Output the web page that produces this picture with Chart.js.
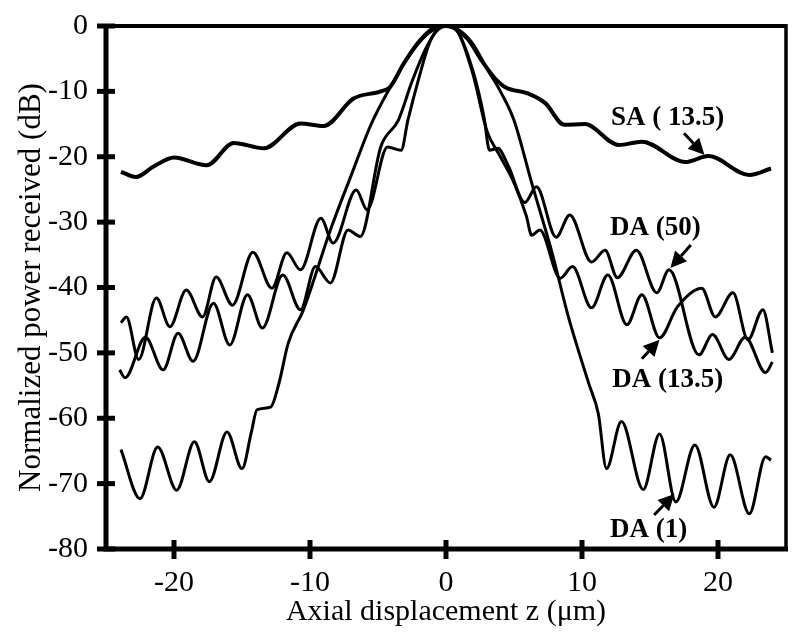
<!DOCTYPE html>
<html>
<head>
<meta charset="utf-8">
<script src="https://cdn.jsdelivr.net/npm/chart.js@4"></script>
<style>
  html, body { margin: 0; padding: 0; background: #fff; }
</style>
</head>
<body>
<canvas id="chart" width="800" height="637"></canvas>
<script>
// axial displacement z (um) and normalized power (dB)
const zSA = [-23.9, -22.8, -21.5, -20.0, -17.6, -15.6, -13.4, -10.7, -9.0, -6.8, -4.8, -4.1, -3.1, -2.0, -0.9, 0,
  0.6, 1.6, 2.6, 3.6, 4.4, 6.0, 7.3, 8.7, 10.2, 12.7, 14.4, 17.6, 19.3, 22.3, 23.9];
const dbSA = [-22.3, -23.1, -21.5, -20.1, -21.3, -17.9, -18.7, -14.9, -15.3, -11.1, -10.0, -9.3, -5.7, -2.4, -0.3, 0,
  -0.3, -2.0, -5.2, -8.0, -9.4, -10.3, -11.8, -15.1, -15.0, -18.2, -17.7, -20.8, -19.9, -22.8, -21.8];

const zDA50 = [-23.9, -23.5, -22.6, -21.3, -20.3, -19.1, -17.9, -16.9, -15.7, -14.2, -12.8, -11.7, -10.7, -9.2, -8.3,
  -6.6, -5.8, -4.3, -3.3, -2.8, -2.0, -1.2, -0.5, 0, 0.8, 2.0, 2.8, 3.2, 3.8, 4.6, 5.8, 6.65, 8.1, 9.1, 10.7, 11.7,
  12.6, 14.0, 15.5, 16.4, 18.6, 19.6, 20.8, 22.0, 23.5, 24.0];
const dbDA50 = [-45.4, -44.5, -51.0, -41.6, -46.0, -40.4, -44.5, -38.4, -42.7, -34.6, -40.1, -34.7, -37.3, -29.4, -33.2,
  -25.1, -28.1, -18.5, -19.0, -14.4, -8.0, -2.5, -0.3, 0, -0.7, -7.0, -14.0, -19.0, -18.7, -21.5, -27.0, -24.6, -32.3,
  -28.9, -36.1, -34.3, -38.5, -34.3, -40.8, -37.3, -50.3, -47.2, -51.0, -47.6, -53.0, -51.4];

const zDA135 = [-24.0, -23.6, -22.1, -20.8, -19.7, -18.6, -17.1, -15.9, -14.6, -13.5, -12.0, -10.7, -9.6, -8.5, -7.2,
  -6.3, -4.8, -3.5, -2.5, -1.5, -0.7, 0, 0.8, 2.0, 3.0, 4.0, 5.0, 5.9, 6.3, 6.9, 8.4, 9.3, 10.7, 11.9, 13.3, 14.4,
  15.7, 17.0, 18.8, 19.8, 21.1, 22.2, 23.3, 24.0];
const dbDA135 = [-52.6, -53.8, -47.6, -52.6, -47.0, -51.3, -42.4, -48.8, -41.1, -46.2, -38.1, -43.4, -36.8, -39.3, -31.2,
  -32.2, -18.5, -14.4, -8.5, -3.5, -0.8, 0, -0.7, -7.5, -16.0, -20.0, -24.0, -29.0, -32.0, -31.2, -38.6, -36.8, -43.1,
  -38.1, -45.7, -41.1, -47.7, -43.0, -40.1, -44.5, -40.8, -48.0, -43.4, -50.0];

const zDA1 = [-23.9, -22.5, -21.2, -19.8, -18.5, -17.4, -16.1, -15.0, -14.3, -13.9, -12.9, -12.3, -11.6, -10.5, -8.5,
  -7.0, -5.5, -4.0, -3.0, -2.0, -1.0, 0, 1.0, 2.0, 3.0, 4.0, 5.0, 6.3, 7.8, 9.0, 10.5, 11.2, 11.8, 12.9, 14.5, 15.7,
  16.9, 18.3, 19.7, 20.9, 22.3, 23.5, 23.9];
const dbDA1 = [-64.8, -72.3, -64.4, -71.0, -63.6, -69.7, -62.1, -67.7, -62.0, -58.7, -58.3, -54.8, -48.5, -43.5, -31.2,
  -23.0, -15.0, -9.0, -5.5, -2.6, -0.7, 0, -0.7, -2.8, -6.5, -10.0, -14.4, -24.0, -34.7, -44.5, -54.7, -59.3, -67.7,
  -60.5, -70.9, -62.4, -72.8, -64.1, -73.6, -65.6, -74.6, -65.9, -66.4];

const xTickValues = [-20, -10, 0, 10, 20];
const yTickValues = [0, -10, -20, -30, -40, -50, -60, -70, -80];

// curve labels and arrows (data units)
const noteText = ['SA ( 13.5)', 'DA (50)', 'DA (13.5)', 'DA (1)'];
const noteZ = [16.3, 15.4, 16.3, 14.9];
const noteDb = [-14.1, -30.9, -54.1, -77.1];
const arrowTailZ = [17.5, 18.0, 14.4, 15.3];
const arrowTailDb = [-16.4, -33.5, -50.9, -74.8];
const arrowTipZ = [19.0, 16.5, 15.7, 16.8];
const arrowTipDb = [-19.7, -37.0, -48.0, -71.6];

const serif = 'Liberation Serif';
const pts = (zs, dbs) => zs.map((z, i) => ({x: z, y: dbs[i]}));

function curve(label, zs, dbs, width) {
  return {
    label: label,
    data: pts(zs, dbs),
    borderColor: '#000',
    borderWidth: width,
    pointRadius: 0,
    fill: false,
    cubicInterpolationMode: 'monotone'
  };
}

const axisFrame = {
  id: 'axisFrame',
  afterDatasetsDraw(chart) {
    const {ctx, chartArea: {left, right, top, bottom}, scales: {x, y}} = chart;
    ctx.save();
    ctx.strokeStyle = '#000';
    ctx.lineCap = 'butt';
    ctx.lineWidth = 4;
    ctx.beginPath();
    ctx.moveTo(left, top);
    ctx.lineTo(right, top);
    ctx.stroke();
    ctx.lineWidth = 3.5;
    ctx.beginPath();
    ctx.moveTo(right, top - 2);
    ctx.lineTo(right, bottom);
    ctx.stroke();
    ctx.lineWidth = 5;
    ctx.beginPath();
    ctx.moveTo(left, top - 2);
    ctx.lineTo(left, bottom);
    ctx.lineTo(right + 2, bottom);
    ctx.stroke();
    y.ticks.forEach(t => {
      const py = y.getPixelForValue(t.value);
      ctx.beginPath();
      ctx.moveTo(left - 9, py);
      ctx.lineTo(left + 9, py);
      ctx.stroke();
    });
    x.ticks.forEach(t => {
      const px = x.getPixelForValue(t.value);
      ctx.beginPath();
      ctx.moveTo(px, bottom - 9);
      ctx.lineTo(px, bottom + 10);
      ctx.stroke();
    });
    ctx.restore();
  }
};

const curveNotes = {
  id: 'curveNotes',
  afterDraw(chart) {
    const {ctx, scales: {x, y}} = chart;
    ctx.save();
    ctx.fillStyle = '#000';
    ctx.strokeStyle = '#000';
    ctx.font = 'bold 27px "' + serif + '"';
    ctx.textAlign = 'center';
    ctx.textBaseline = 'middle';
    noteText.forEach((txt, i) => {
      ctx.fillText(txt, x.getPixelForValue(noteZ[i]), y.getPixelForValue(noteDb[i]));
      const x0 = x.getPixelForValue(arrowTailZ[i]), y0 = y.getPixelForValue(arrowTailDb[i]);
      const x1 = x.getPixelForValue(arrowTipZ[i]), y1 = y.getPixelForValue(arrowTipDb[i]);
      const a = Math.atan2(y1 - y0, x1 - x0);
      const head = 16, half = 8;
      ctx.lineWidth = 3;
      ctx.beginPath();
      ctx.moveTo(x0, y0);
      ctx.lineTo(x1 - head * Math.cos(a), y1 - head * Math.sin(a));
      ctx.stroke();
      ctx.beginPath();
      ctx.moveTo(x1, y1);
      ctx.lineTo(x1 - head * Math.cos(a) + half * Math.sin(a), y1 - head * Math.sin(a) - half * Math.cos(a));
      ctx.lineTo(x1 - head * Math.cos(a) - half * Math.sin(a), y1 - head * Math.sin(a) + half * Math.cos(a));
      ctx.closePath();
      ctx.fill();
    });
    ctx.restore();
  }
};

new Chart(document.getElementById('chart'), {
  type: 'line',
  data: {
    datasets: [
      curve('SA (13.5)', zSA, dbSA, 4),
      curve('DA (50)', zDA50, dbDA50, 3),
      curve('DA (13.5)', zDA135, dbDA135, 3),
      curve('DA (1)', zDA1, dbDA1, 3)
    ]
  },
  options: {
    responsive: false,
    animation: false,
    devicePixelRatio: 1,
    layout: { padding: { top: 26, right: 14, left: 0, bottom: 0 } },
    plugins: { legend: { display: false }, tooltip: { enabled: false } },
    scales: {
      x: {
        type: 'linear',
        min: -25,
        max: 25,
        afterBuildTicks: s => { s.ticks = xTickValues.map(v => ({value: v})); },
        afterFit: s => { s.height = 88; },
        grid: { display: false, tickLength: 8 },
        border: { display: false },
        ticks: { padding: 8, color: '#000', font: { family: serif, size: 30 } },
        title: {
          display: true,
          text: 'Axial displacement z (μm)',
          color: '#000',
          font: { family: serif, size: 30 },
          padding: { top: 0, bottom: 7 }
        }
      },
      y: {
        min: -80,
        max: 0,
        afterBuildTicks: s => { s.ticks = yTickValues.map(v => ({value: v})); },
        afterFit: s => { s.width = 106; },
        grid: { display: false, tickLength: 12 },
        border: { display: false },
        ticks: { padding: 6, color: '#000', font: { family: serif, size: 30 } },
        title: {
          display: true,
          text: 'Normalized power received (dB)',
          color: '#000',
          font: { family: serif, size: 31 },
          padding: { top: 13, bottom: 0 }
        }
      }
    }
  },
  plugins: [axisFrame, curveNotes]
});
</script>
</body>
</html>
